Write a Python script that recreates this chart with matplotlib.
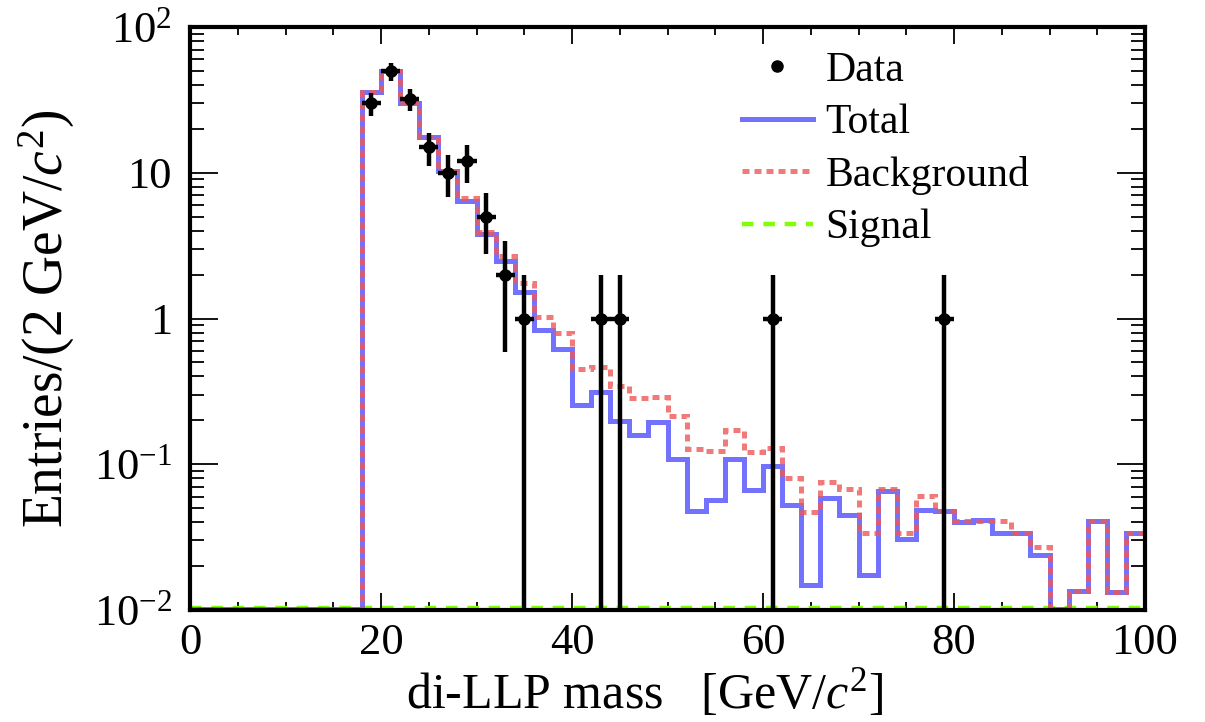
import numpy as np
import matplotlib
matplotlib.use("Agg")
import matplotlib.pyplot as plt
from matplotlib.lines import Line2D
from matplotlib.ticker import FixedLocator, LogLocator, MultipleLocator, FixedFormatter, NullFormatter

plt.rcParams['font.family'] = ['Liberation Serif', 'DejaVu Serif']
plt.rcParams['mathtext.fontset'] = 'custom'
plt.rcParams['mathtext.rm'] = 'Liberation Serif'
plt.rcParams['mathtext.it'] = 'Liberation Serif:italic'
plt.rcParams['mathtext.bf'] = 'Liberation Serif:bold'

# ---------------- data ----------------
bin_edges = list(range(0, 101, 2))

total = [0.0101, 0.0101, 0.0101, 0.0101, 0.0101, 0.0101, 0.0101, 0.0101, 0.0101,
         36, 50, 30, 17.5, 10.3, 6.4, 3.8, 2.47, 1.53, 0.84, 0.62,
         0.254, 0.314, 0.197, 0.158, 0.194, 0.109, 0.048, 0.057, 0.108, 0.067,
         0.097, 0.0525, 0.0148, 0.059, 0.045, 0.0174, 0.066, 0.0305, 0.0484, 0.048,
         0.040, 0.0412, 0.034, 0.034, 0.0238, 0.0101, 0.0134, 0.041, 0.0133, 0.034]

background = [0.0101, 0.0101, 0.0101, 0.0101, 0.0101, 0.0101, 0.0101, 0.0101, 0.0101,
              36, 50, 30, 17.5, 10.3, 6.7, 3.9, 2.7, 1.75, 1.03, 0.80,
              0.447, 0.465, 0.343, 0.285, 0.29, 0.213, 0.127, 0.123, 0.171, 0.122,
              0.130, 0.081, 0.047, 0.075, 0.068, 0.034, 0.068, 0.034, 0.061, 0.048,
              0.041, 0.041, 0.041, 0.034, 0.027, 0.0101, 0.0134, 0.041, 0.0133, 0.034]

signal = [0.0103] * 50

data_x = [19, 21, 23, 25, 27, 29, 31, 33, 35, 43, 45, 61, 79]
data_n = [30, 50, 32, 15, 10, 12, 5, 2, 1, 1, 1, 1, 1]

x_ticks = [0, 20, 40, 60, 80, 100]
y_ticks = [0.01, 0.1, 1, 10, 100]
y_tick_labels = [r'$10^{-2}$', r'$10^{-1}$', '1', '10', r'$10^{2}$']

# ---------------- figure ----------------
fig = plt.figure(figsize=(12.05, 7.22), dpi=100)
ax = fig.add_axes([190 / 1205, 1 - 610 / 722, 955 / 1205, 583 / 722])
ax.set_yscale('log')

c_total = (0.35, 0.35, 1.0, 0.85)
c_bkg = (0.93, 0.35, 0.35, 0.8)
c_sig = (0.5, 1.0, 0.0, 1.0)

ax.stairs(signal, bin_edges, baseline=None, color=c_sig, lw=3.2,
          linestyle=(0, (2.6, 2.2)), zorder=2)
ax.stairs(total, bin_edges, baseline=None, color=c_total, lw=3.6, zorder=3)
ax.stairs(background, bin_edges, baseline=None, color=c_bkg, lw=3.6,
          linestyle=(0, (1.4, 1.0)), zorder=4)

n = np.array(data_n, dtype=float)
err_hi = np.sqrt(n)
err_lo = n - np.maximum(n - np.sqrt(n), 1e-5)
ax.errorbar(data_x, n, xerr=1.0, yerr=[err_lo, err_hi], fmt='o', color='black',
            ms=8, elinewidth=3.2, capsize=0, zorder=6)

ax.set_xlim(0, 100)
ax.set_ylim(0.01, 100)

ax.xaxis.set_major_locator(FixedLocator(x_ticks))
ax.xaxis.set_minor_locator(MultipleLocator(5))
ax.yaxis.set_major_locator(FixedLocator(y_ticks))
ax.yaxis.set_major_formatter(FixedFormatter(y_tick_labels))
ax.yaxis.set_minor_locator(LogLocator(base=10, subs=np.arange(2, 10), numticks=20))
ax.yaxis.set_minor_formatter(NullFormatter())

ax.tick_params(axis='both', which='both', direction='in', top=True, right=True,
               colors='black', width=1.3)
ax.tick_params(axis='x', which='major', length=12, labelsize=32, pad=9)
ax.tick_params(axis='x', which='minor', length=6)
ax.tick_params(axis='y', which='major', length=20, labelsize=32, pad=13)
ax.tick_params(axis='y', which='minor', length=10)

for sp in ax.spines.values():
    sp.set_linewidth(3)
    sp.set_zorder(5)

ax.set_xlabel(r'di-LLP mass   [GeV/$c^{2}$]', fontsize=36)
ax.xaxis.set_label_coords(0.476, -0.098)
ax.set_ylabel(r'Entries/(2 GeV/$c^{2}$)', fontsize=40)
ax.yaxis.set_label_coords(-0.118, 0.5)

handles = [
    Line2D([], [], marker='o', ls='none', color='black', ms=8),
    Line2D([], [], color=c_total, lw=3.6),
    Line2D([], [], color=c_bkg, lw=3.6, linestyle=(0, (1.4, 1.0))),
    Line2D([], [], color=c_sig, lw=3.2, linestyle=(0, (2.6, 2.2))),
]
labels = ['Data', 'Total', 'Background', 'Signal']
leg = ax.legend(handles, labels, loc='upper left', bbox_to_anchor=(0.578, 0.958),
                frameon=False, fontsize=30, handlelength=1.7, handletextpad=0.3,
                labelspacing=0.33, borderpad=0, borderaxespad=0)

fig.savefig('out.png', dpi=100)
